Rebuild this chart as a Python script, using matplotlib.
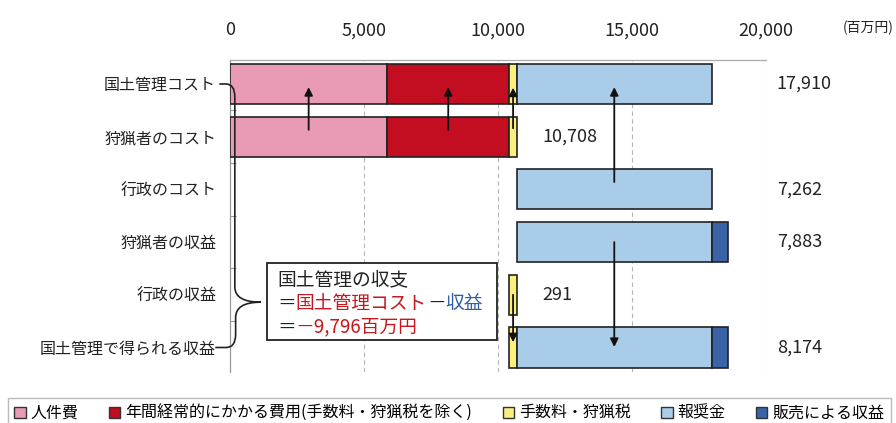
import matplotlib.pyplot as plt
from matplotlib.patches import Patch, Rectangle, PathPatch
from matplotlib.path import Path
from matplotlib.ticker import FuncFormatter
import numpy as np

plt.rcParams['font.family'] = ['Noto Sans CJK JP', 'DejaVu Sans']

# Data (百万円)
categories = ['国土管理コスト', '狩猟者のコスト', '行政のコスト',
              '狩猟者の収益', '行政の収益', '国土管理で得られる収益']
base = [0, 0, 10708, 10708, 10417, 10417]          # invisible offset
jinkenhi = [5870, 5870, 0, 0, 0, 0]                # 人件費
nenkan = [4547, 4547, 0, 0, 0, 0]                  # 年間経常的にかかる費用
tesuryo = [291, 291, 0, 0, 291, 291]               # 手数料・狩猟税
hoshokin = [7262, 0, 7262, 7262, 0, 7262]          # 報奨金
hanbai = [0, 0, 0, 621, 0, 621]                    # 販売による収益
value_labels = ['17,910', '10,708', '7,262', '7,883', '291', '8,174']
xticks = [0, 5000, 10000, 15000, 20000]

series = [
    ('人件費', jinkenhi, '#e99ab5'),
    ('年間経常的にかかる費用(手数料・狩猟税を除く)', nenkan, '#c30d20'),
    ('手数料・狩猟税', tesuryo, '#fbf07e'),
    ('報奨金', hoshokin, '#a9cde8'),
    ('販売による収益', hanbai, '#3a62a7'),
]

fig = plt.figure(figsize=(8.96, 4.23), dpi=100)
ax = fig.add_axes([230 / 896, 1 - 372 / 423, 536 / 896, 312 / 423])

y = np.arange(len(categories))
left = np.array(base, dtype=float)
starts = {}
for name, vals, color in series:
    vals = np.array(vals, dtype=float)
    starts[name] = left.copy()
    m = vals > 0
    ax.barh(y[m], vals[m], left=left[m], height=0.76, color=color,
            edgecolor='#222222', linewidth=1.2, zorder=3)
    left = left + vals
ends = left

# value labels
for i, lab in enumerate(value_labels):
    lx = 20400 if ends[i] > 15000 else ends[i] + 950
    ax.text(lx, i, lab, va='center', ha='left', fontsize=13, color='#222222')

# arrows at the middle of segments
def mid(name, row):
    vals = dict((s[0], s[1]) for s in series)[name]
    return starts[name][row] + vals[row] / 2

arrows = [
    ('人件費', 1, 0.87, 0.06),
    ('年間経常的にかかる費用(手数料・狩猟税を除く)', 1, 0.87, 0.06),
    ('手数料・狩猟税', 1, 0.84, 0.07),
    ('報奨金', 2, 1.86, 0.06),
    ('報奨金', 3, 3.0, 4.99),
    ('手数料・狩猟税', 4, 4.0, 4.9),
]
for name, row, y0, y1 in arrows:
    xm = mid(name, row)
    ax.annotate('', xy=(xm, y1), xytext=(xm, y0),
                arrowprops=dict(arrowstyle='-|>', color='#111111', lw=1.3,
                                mutation_scale=12, shrinkA=0, shrinkB=0),
                zorder=5)

# brace from first to last label
verts = [(-400, 0.0), (-150, 0.0),
         (180, 0.0), (180, 0.25),
         (180, 3.85),
         (180, 4.14), (1150, 4.14),
         (210, 4.14), (210, 4.43),
         (210, 4.75),
         (210, 5.0), (-150, 5.0),
         (-550, 5.0)]
codes = [Path.MOVETO, Path.LINETO,
         Path.CURVE3, Path.CURVE3,
         Path.LINETO,
         Path.CURVE3, Path.CURVE3,
         Path.CURVE3, Path.CURVE3,
         Path.LINETO,
         Path.CURVE3, Path.CURVE3,
         Path.LINETO]
ax.add_patch(PathPatch(Path(verts, codes), fill=False, lw=1.2,
                       edgecolor='#222222', clip_on=False, zorder=4))

# balance box
ax.add_patch(Rectangle((1380, 3.40), 8580, 1.46, facecolor='white',
                       edgecolor='#222222', lw=1.3, zorder=4))
red, blue, black = '#c8161d', '#2f5da8', '#222222'
fs = 13.5
ax.text(1750, 3.72, '国土管理の収支', fontsize=fs, color=black,
        va='center', ha='left', zorder=6)
t = ax.text(1750, 4.16, '＝', fontsize=fs, color=black, va='center',
            ha='left', zorder=6)
for s, c in [('国土管理コスト', red), ('－', black), ('収益', blue)]:
    t = ax.annotate(s, xy=(1, 0), xycoords=t, va='bottom', ha='left',
                    fontsize=fs, color=c, zorder=6)
t = ax.text(1750, 4.61, '＝', fontsize=fs, color=black, va='center',
            ha='left', zorder=6)
ax.annotate('－9,796百万円', xy=(1, 0), xycoords=t, va='bottom', ha='left',
            fontsize=fs, color=red, zorder=6)

# axes styling
ax.set_xlim(0, 20000)
ax.set_ylim(5.465, -0.455)
ax.xaxis.tick_top()
ax.set_xticks(xticks)
ax.xaxis.set_major_formatter(FuncFormatter(lambda v, p: f'{int(v):,}'))
ax.tick_params(axis='x', length=0, pad=15, labelsize=13, labelcolor='#222222')
ax.set_yticks(y)
ax.set_yticklabels(categories)
ax.tick_params(axis='y', length=0, pad=10, labelsize=11.5, labelcolor='#222222')
ax.set_yticks(np.arange(0.5, 5, 1), minor=True)
ax.tick_params(axis='y', which='minor', direction='in', length=4,
               color='#999999', width=0.8)
for xv in xticks[1:]:
    ax.axvline(xv, color='#b5b5b5', lw=0.8, ls=(0, (4, 3)), zorder=1)
for s in ['right', 'bottom']:
    ax.spines[s].set_visible(False)
ax.spines['left'].set_color('#999999')
ax.spines['top'].set_color('#aaaaaa')
ax.spines['left'].set_linewidth(0.9)
ax.spines['top'].set_linewidth(0.9)

fig.text(894 / 896, 1 - 28 / 423, '(百万円)', fontsize=10, va='center',
         ha='right', color='#222222')

handles = [Patch(facecolor=c, edgecolor='#333333', lw=1) for _, _, c in series]
fig.legend(handles, [s[0] for s in series], loc='lower left',
           bbox_to_anchor=(0.009, -0.012, 0.985, 0.1), mode='expand', ncol=5,
           frameon=True, fancybox=False, edgecolor='#aaaaaa',
           handlelength=0.7, handleheight=0.7, handletextpad=0.3,
           fontsize=11.5, borderaxespad=0)

fig.savefig('out.png', dpi=100)
